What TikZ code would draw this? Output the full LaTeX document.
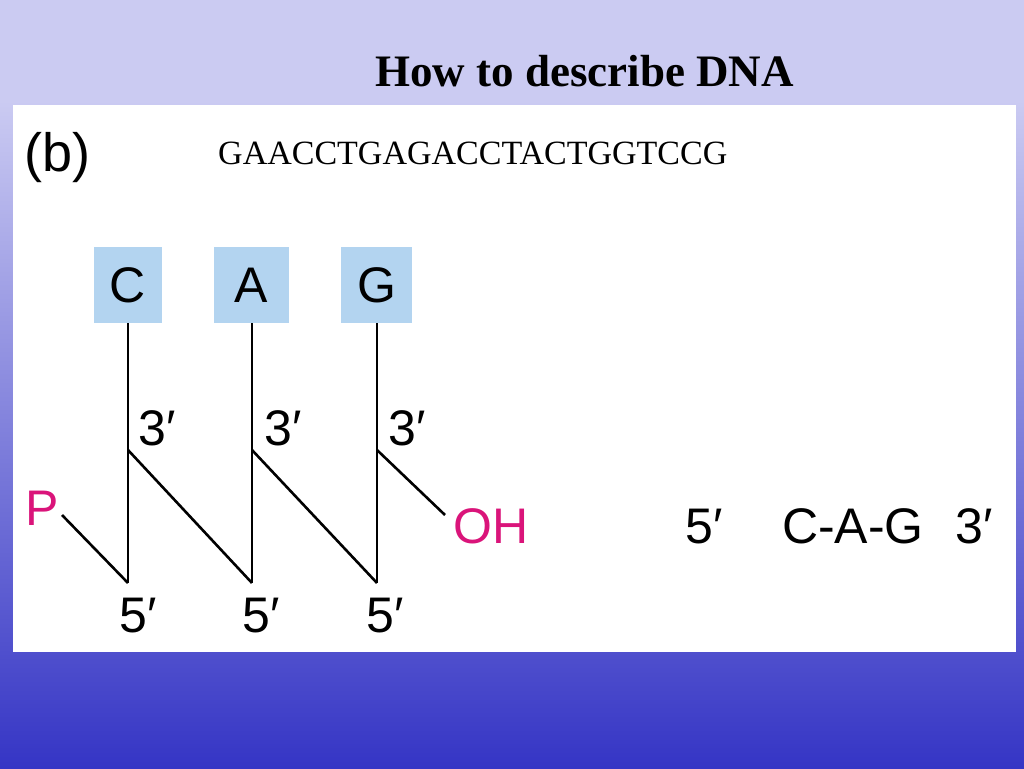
\documentclass[tikz,border=0pt]{standalone}
\usepackage{fontspec}
\setmainfont{Liberation Serif}
\setsansfont{Liberation Sans}
\definecolor{bgtop}{RGB}{203,203,242}
\definecolor{bgbot}{RGB}{53,53,197}
\definecolor{basebox}{RGB}{179,212,240}
\definecolor{endmag}{RGB}{218,20,122}
\begin{document}
\begin{tikzpicture}[x=1pt,y=-1pt]
    \tikzset{
        lbl/.style={anchor=base west, inner sep=0, font=\sffamily\fontsize{50}{60}\selectfont},
        base/.style={fill=basebox, inner sep=0, minimum height=76, font=\sffamily\fontsize{50}{60}\selectfont},
        bond/.style={line width=2.6pt}
    }
    \useasboundingbox (0,0) rectangle (1024,768);
    \fill[bgtop] (0,0) rectangle (1024,100);
    \shade[top color=bgtop, bottom color=bgbot] (0,100) rectangle (1024,768);
    \fill[white] (13,105) rectangle (1016,652);

    \draw node[anchor=base west, inner sep=0, font=\bfseries\fontsize{45}{54}\selectfont] (title) at (375,86) {How to describe DNA};
    \draw node[lbl, font=\sffamily\fontsize{54}{64}\selectfont] (b) at (24,171) {(b)};
    \draw node[anchor=base west, inner sep=0, font=\fontsize{34}{40}\selectfont] (seq) at (218,164) {GAACCTGAGACCTACTGGTCCG};

    % bases
    \draw node[base, minimum width=68] (C) at (128,285) {C};
    \draw node[base, minimum width=75] (A) at (251.5,285) {A};
    \draw node[base, minimum width=71] (G) at (376.5,285) {G};

    \coordinate (c3) at (128,450);
    \coordinate (c5) at (128,583);
    \coordinate (a3) at (252,450);
    \coordinate (a5) at (252,583);
    \coordinate (g3) at (377,450);
    \coordinate (g5) at (377,583);
    \coordinate (p0) at (62,515);
    \coordinate (oh0) at (445,515);

    \draw[bond] (C.south -| c5) -- (c5);
    \draw[bond] (A.south -| a5) -- (a5);
    \draw[bond] (G.south -| g5) -- (g5);
    \draw[bond] (p0) -- (c5);
    \draw[bond] (c3) -- (a5);
    \draw[bond] (a3) -- (g5);
    \draw[bond] (g3) -- (oh0);

    \draw node[lbl] (c3l) at (138,445) {3′};
    \draw node[lbl] (a3l) at (264,445) {3′};
    \draw node[lbl] (g3l) at (388,445) {3′};
    \draw node[lbl] (c5l) at (119,632) {5′};
    \draw node[lbl] (a5l) at (242,632) {5′};
    \draw node[lbl] (g5l) at (366,632) {5′};
    \draw node[lbl, text=endmag] (P) at (25,525) {P};
    \draw node[lbl, text=endmag] (OH) at (453,543) {OH};

    \draw node[lbl] (s5) at (685,543) {5′};
    \draw node[lbl] (seqcag) at (782,543) {C-A-G};
    \draw node[lbl] (s3) at (955,543) {3′};
\end{tikzpicture}
\end{document}
